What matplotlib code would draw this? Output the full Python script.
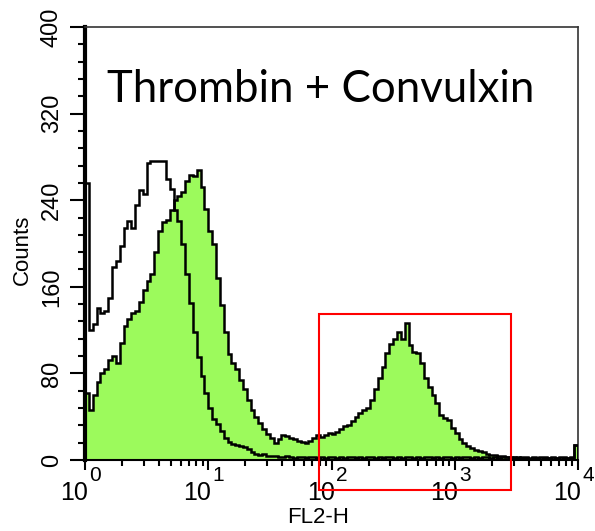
import numpy as np
import matplotlib
matplotlib.use("Agg")
import matplotlib.pyplot as plt
from matplotlib.patches import Rectangle

# FL2-H histograms, 128 channels over 4 decades (counts)
treated = [62, 46, 60, 72, 80, 84, 92, 96, 90, 108, 124, 130, 136, 138, 146, 157,
           165, 172, 192, 212, 220, 222, 231, 240, 244, 248, 258, 263, 262, 268, 252, 232,
           212, 200, 168, 143, 118, 98, 90, 84, 74, 66, 55, 46, 40, 34, 29, 24,
           20, 16, 19, 23, 22, 20, 19, 18, 17, 16, 18, 20, 23, 21, 23, 25,
           24, 26, 29, 31, 32, 36, 40, 43, 46, 48, 55, 66, 76, 86, 99, 107,
           112, 118, 112, 127, 106, 100, 99, 90, 76, 67, 60, 53, 42, 39, 37, 30,
           25, 19, 16, 13, 11, 9, 8, 7, 6, 5, 5, 4, 4, 3, 3, 2,
           3, 2, 2, 1, 2, 2, 1, 2, 2, 1, 2, 1, 2, 2, 2, 14]
control = [256, 120, 126, 140, 136, 138, 150, 178, 184, 198, 214, 221, 214, 236, 249, 246,
           274, 276, 276, 276, 276, 260, 250, 231, 221, 200, 172, 145, 118, 95, 78, 62,
           48, 38, 33, 27, 20, 17, 15, 14, 13, 12, 10, 7, 6, 5, 6, 4,
           4, 4, 3, 3, 4, 3, 2, 3, 3, 2, 3, 3, 2, 3, 2, 3,
           3, 2, 3, 2, 3, 3, 2, 3, 2, 3, 3, 2, 3, 2, 3, 3,
           2, 3, 2, 3, 3, 2, 3, 2, 3, 3, 2, 3, 2, 3, 3, 2,
           3, 2, 3, 3, 2, 3, 2, 3, 3, 2, 3, 2, 3, 3, 2, 3,
           2, 3, 3, 2, 3, 2, 3, 3, 2, 3, 2, 3, 3, 2, 3, 14]
gate_x = [79, 2860]
gate_y = [-28, 135]
yticks = [0, 80, 160, 240, 320, 400]
decades = [0, 1, 2, 3, 4]

edges = np.logspace(0, 4, len(treated) + 1)

fig = plt.figure(figsize=(5.95, 5.31), dpi=100)
ax = fig.add_axes([85 / 595, 1 - 460 / 531, 493 / 595, 433 / 531])

ax.stairs(treated, edges, fill=True, color="#9cfa5c", zorder=1)
ax.stairs(treated, edges, color="black", lw=1.8, zorder=2)
ax.stairs(control, edges, color="black", lw=1.8, zorder=3)

ax.set_xscale("log")
ax.set_xlim(1, 1e4)
ax.set_ylim(0, 400)

# gate
ax.add_patch(Rectangle((gate_x[0], gate_y[0]), gate_x[1] - gate_x[0], gate_y[1] - gate_y[0],
                       fill=False, ec="red", lw=1.5, clip_on=False, zorder=5))

# y axis
ax.set_yticks(yticks)
ax.set_yticks(np.arange(0, 401, 16), minor=True)
ax.tick_params(axis="y", which="major", direction="out", length=11, width=1.5,
               labelsize=17, labelrotation=90, pad=5)
ax.tick_params(axis="y", which="minor", direction="out", length=5, width=1.5)
for lab in ax.get_yticklabels():
    lab.set_verticalalignment("center")
    lab.set_family("Liberation Sans")

# x axis ticks, labels drawn by hand as 10 + raised exponent
ax.set_xticks([10.0 ** d for d in decades])
ax.tick_params(axis="x", which="major", direction="out", length=7, width=1.5, labelbottom=False)
ax.tick_params(axis="x", which="minor", direction="out", length=4, width=1.5)
for d in decades:
    ax.annotate("10", (10.0 ** d, 0), xycoords=("data", "axes fraction"),
                xytext=(3, -21), textcoords="offset pixels", ha="right", va="top",
                fontsize=18, family="Liberation Sans", annotation_clip=False)
    ax.annotate(str(d), (10.0 ** d, 0), xycoords=("data", "axes fraction"),
                xytext=(4, -21), textcoords="offset pixels", ha="left", va="baseline",
                fontsize=15, family="Liberation Sans", annotation_clip=False)

ax.set_xlabel("FL2-H", fontsize=16, family="Liberation Sans")
ax.xaxis.set_label_coords((318 - 85) / 493, (460 - 507) / 433)
ax.set_ylabel("Counts", fontsize=16, family="Liberation Sans")
ax.yaxis.set_label_coords((33 - 85) / 493, (460 - 250) / 433)

ax.spines["left"].set_linewidth(3)
ax.spines["bottom"].set_linewidth(1.5)
for s in ["top", "right"]:
    ax.spines[s].set_linewidth(1.2)
    ax.spines[s].set_color("#333333")

fig.text(107 / 595, 1 - 102 / 531, "Thrombin + Convulxin", fontsize=31.5,
         family="Lato", va="baseline", ha="left")

fig.savefig("out.png", dpi=100)
